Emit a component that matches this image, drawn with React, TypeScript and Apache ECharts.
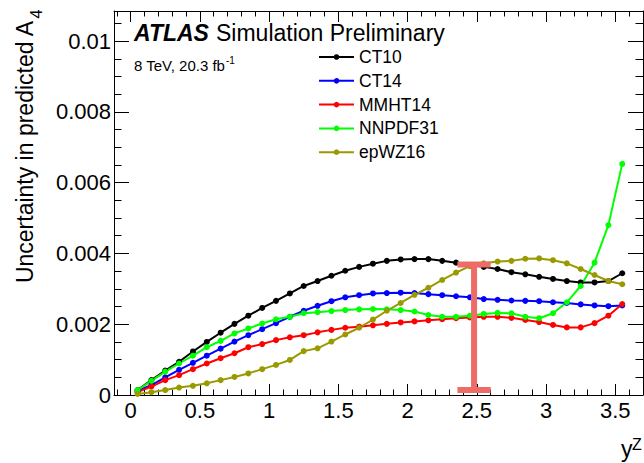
import React, { useEffect, useRef } from 'react';
import * as echarts from 'echarts';

const yZ = [0.05, 0.15, 0.25, 0.35, 0.45, 0.55, 0.65, 0.75, 0.85, 0.95, 1.05, 1.15, 1.25, 1.35, 1.45, 1.55, 1.65, 1.75,
  1.85, 1.95, 2.05, 2.15, 2.25, 2.35, 2.45, 2.55, 2.65, 2.75, 2.85, 2.95, 3.05, 3.15, 3.25, 3.35, 3.45, 3.55];

const ct10 = [0.00014, 0.00042, 0.00069, 0.00094, 0.00123, 0.00150, 0.00176, 0.00201, 0.00224, 0.00246, 0.00266, 0.00287,
  0.00308, 0.00322, 0.00337, 0.00351, 0.00362, 0.00371, 0.00379, 0.00383, 0.00384, 0.00384, 0.00379, 0.00374, 0.00367,
  0.00362, 0.00356, 0.00347, 0.00341, 0.00334, 0.00328, 0.00322, 0.00318, 0.00318, 0.00322, 0.00344];
const ct14 = [0.00012, 0.00028, 0.00050, 0.00071, 0.00091, 0.00111, 0.00131, 0.00151, 0.00169, 0.00186, 0.00203, 0.00221,
  0.00238, 0.00252, 0.00265, 0.00276, 0.00282, 0.00287, 0.00288, 0.00289, 0.00288, 0.00285, 0.00282, 0.00279, 0.00276,
  0.00271, 0.00269, 0.00267, 0.00266, 0.00265, 0.00262, 0.00260, 0.00256, 0.00253, 0.00251, 0.00253];
const mmht14 = [0.00008, 0.00024, 0.00042, 0.00056, 0.00073, 0.00089, 0.00104, 0.00118, 0.00135, 0.00144, 0.00155, 0.00163,
  0.00169, 0.00177, 0.00184, 0.00190, 0.00193, 0.00197, 0.00201, 0.00205, 0.00208, 0.00211, 0.00214, 0.00217, 0.00219,
  0.00221, 0.00221, 0.00218, 0.00212, 0.00206, 0.00198, 0.00191, 0.00191, 0.00203, 0.00224, 0.00257];
const nnpdf31 = [0.00014, 0.00040, 0.00066, 0.00089, 0.00111, 0.00135, 0.00153, 0.00174, 0.00188, 0.00202, 0.00214, 0.00221,
  0.00231, 0.00234, 0.00237, 0.00240, 0.00242, 0.00243, 0.00242, 0.00240, 0.00236, 0.00226, 0.00221, 0.00221, 0.00224,
  0.00229, 0.00232, 0.00231, 0.00221, 0.00217, 0.00231, 0.00262, 0.00308, 0.00374, 0.00480, 0.00653];
const epwz16 = [0.00003, 0.00008, 0.00014, 0.00021, 0.00026, 0.00033, 0.00042, 0.00051, 0.00061, 0.00073, 0.00085, 0.00099,
  0.00124, 0.00132, 0.00151, 0.00171, 0.00190, 0.00213, 0.00238, 0.00260, 0.00283, 0.00303, 0.00325, 0.00346, 0.00364,
  0.00372, 0.00377, 0.00379, 0.00385, 0.00386, 0.00381, 0.00372, 0.00356, 0.00339, 0.00322, 0.00313];

const seriesNames = ['CT10', 'CT14', 'MMHT14', 'NNPDF31', 'epWZ16'];
const seriesValues = [ct10, ct14, mmht14, nnpdf31, epwz16];
const seriesColors = ['#000000', '#0000ff', '#ff0000', '#00ff00', '#999900'];

// hand-drawn I-shaped marker
const markerX = [2.48];
const markerLow = [0.00014];
const markerHigh = [0.00369];
const markerHalfWidth = [0.12];

const xRange = [-0.12, 3.7];
const yRange = [0, 0.01085];
const xMajorTicks = [0, 0.5, 1, 1.5, 2, 2.5, 3, 3.5];
const xTickLabels = ['0', '0.5', '1', '1.5', '2', '2.5', '3', '3.5'];
const xMinorTicks = [-0.1, 0, 0.1, 0.2, 0.3, 0.4, 0.5, 0.6, 0.7, 0.8, 0.9, 1, 1.1, 1.2, 1.3, 1.4, 1.5, 1.6, 1.7, 1.8, 1.9,
  2, 2.1, 2.2, 2.3, 2.4, 2.5, 2.6, 2.7, 2.8, 2.9, 3, 3.1, 3.2, 3.3, 3.4, 3.5, 3.6, 3.7];
const yMajorTicks = [0, 0.002, 0.004, 0.006, 0.008, 0.01];
const yTickLabels = ['0', '0.002', '0.004', '0.006', '0.008', '0.01'];
const yMinorTicks = [0, 0.0005, 0.001, 0.0015, 0.002, 0.0025, 0.003, 0.0035, 0.004, 0.0045, 0.005, 0.0055, 0.006, 0.0065,
  0.007, 0.0075, 0.008, 0.0085, 0.009, 0.0095, 0.01, 0.0105];

const FONT = '"Liberation Sans", Arial, Helvetica, sans-serif';

function labelFor(ticks: number[], labels: string[]) {
  return (v: number) => {
    const i = ticks.findIndex((t) => Math.abs(t - v) < 1e-9);
    return i >= 0 ? labels[i] : '';
  };
}

function xAxisDef(position: string, major: boolean, showLabel: boolean) {
  return {
    type: 'value', gridIndex: 0, position, min: xRange[0], max: xRange[1],
    axisLine: { show: major, onZero: false, lineStyle: { color: '#000', width: 1 } },
    axisTick: { show: true, inside: true, length: major ? 11 : 5.5, customValues: major ? xMajorTicks : xMinorTicks, lineStyle: { color: '#000', width: 1 } },
    axisLabel: { show: showLabel, customValues: xMajorTicks, formatter: labelFor(xMajorTicks, xTickLabels), fontSize: 22, color: '#000', margin: 4, fontFamily: FONT },
    splitLine: { show: false },
  };
}

function yAxisDef(position: string, major: boolean, showLabel: boolean) {
  return {
    type: 'value', gridIndex: 0, position, min: yRange[0], max: yRange[1],
    axisLine: { show: major, onZero: false, lineStyle: { color: '#000', width: 1 } },
    axisTick: { show: true, inside: true, length: major ? 15 : 7.5, customValues: major ? yMajorTicks : yMinorTicks, lineStyle: { color: '#000', width: 1 } },
    axisLabel: { show: showLabel, customValues: yMajorTicks, formatter: labelFor(yMajorTicks, yTickLabels), fontSize: 22, color: '#000', margin: 3, fontFamily: FONT },
    splitLine: { show: false },
  };
}

export default function App() {
  const ref = useRef<HTMLDivElement>(null);
  useEffect(() => {
    if (!ref.current) return;
    const chart = echarts.init(ref.current, null, { renderer: 'svg' });
    const lineSeries = seriesNames.map((name, k) => ({
      type: 'line', name,
      data: yZ.map((x, i) => [x, seriesValues[k][i]]),
      symbol: 'circle', symbolSize: 6, showSymbol: true,
      lineStyle: { color: seriesColors[k], width: 2 },
      itemStyle: { color: seriesColors[k] },
      z: 3,
    }));
    const markerSeries = {
      type: 'custom', name: 'marker', z: 5,
      data: markerX.map((x, i) => [x, markerLow[i], markerHigh[i], markerHalfWidth[i]]),
      renderItem: (params: any, api: any) => {
        const x = api.value(0);
        const lo = api.coord([x, api.value(1)]);
        const hi = api.coord([x, api.value(2)]);
        const hw = api.size([api.value(3), 0])[0];
        const style = { stroke: '#ee6c68', lineWidth: 6, fill: null };
        return {
          type: 'group',
          children: [
            { type: 'line', shape: { x1: lo[0], y1: lo[1], x2: hi[0], y2: hi[1] }, style },
            { type: 'line', shape: { x1: hi[0] - hw, y1: hi[1], x2: hi[0] + hw, y2: hi[1] }, style },
            { type: 'line', shape: { x1: lo[0] - hw, y1: lo[1], x2: lo[0] + hw, y2: lo[1] }, style },
          ],
        };
      },
    };
    chart.setOption({
      animation: false,
      backgroundColor: '#ffffff',
      grid: { left: 114, right: 1, top: 11, bottom: 68, containLabel: false },
      xAxis: [
        xAxisDef('bottom', true, true),
        xAxisDef('top', true, false),
        xAxisDef('bottom', false, false),
        xAxisDef('top', false, false),
      ],
      yAxis: [
        yAxisDef('left', true, true),
        yAxisDef('right', true, false),
        yAxisDef('left', false, false),
        yAxisDef('right', false, false),
      ],
      legend: {
        data: seriesNames, orient: 'vertical', left: 318, top: 48, padding: 0,
        itemWidth: 35, itemHeight: 7, itemGap: 5.8,
        textStyle: { fontSize: 17.5, color: '#000', fontFamily: FONT, lineHeight: 17.5 },
      },
      series: [...lineSeries, markerSeries],
      graphic: [
        { type: 'text', x: 134, y: 32.5, style: { text: 'ATLAS', fontSize: 23, fontWeight: 'bold', fontStyle: 'italic', fontFamily: FONT, fill: '#000', align: 'left', verticalAlign: 'middle' } },
        { type: 'text', x: 216, y: 32.5, style: { text: 'Simulation Preliminary', fontSize: 23, fontFamily: FONT, fill: '#000', align: 'left', verticalAlign: 'middle' } },
        { type: 'text', x: 134, y: 65, style: { text: '8 TeV, 20.3 fb', fontSize: 15, fontFamily: FONT, fill: '#000', align: 'left', verticalAlign: 'middle' } },
        { type: 'text', x: 226, y: 60.5, style: { text: '-1', fontSize: 10, fontFamily: FONT, fill: '#000', align: 'left', verticalAlign: 'middle' } },
        { type: 'text', x: 25, y: 21, rotation: Math.PI / 2, style: { text: 'Uncertainty in predicted A', fontSize: 23, fontFamily: FONT, fill: '#000', align: 'right', verticalAlign: 'middle' } },
        { type: 'text', x: 36, y: 9.5, rotation: Math.PI / 2, style: { text: '4', fontSize: 16, fontFamily: FONT, fill: '#000', align: 'right', verticalAlign: 'middle' } },
        { type: 'text', x: 621, y: 449, style: { text: 'y', fontSize: 23, fontFamily: FONT, fill: '#000', align: 'left', verticalAlign: 'middle' } },
        { type: 'text', x: 632, y: 444.5, style: { text: 'Z', fontSize: 16, fontFamily: FONT, fill: '#000', align: 'left', verticalAlign: 'middle' } },
      ],
    });
    return () => chart.dispose();
  }, []);
  return <div ref={ref} style={{ position: 'fixed', left: 0, top: 0, width: 644, height: 463 }} />;
}
